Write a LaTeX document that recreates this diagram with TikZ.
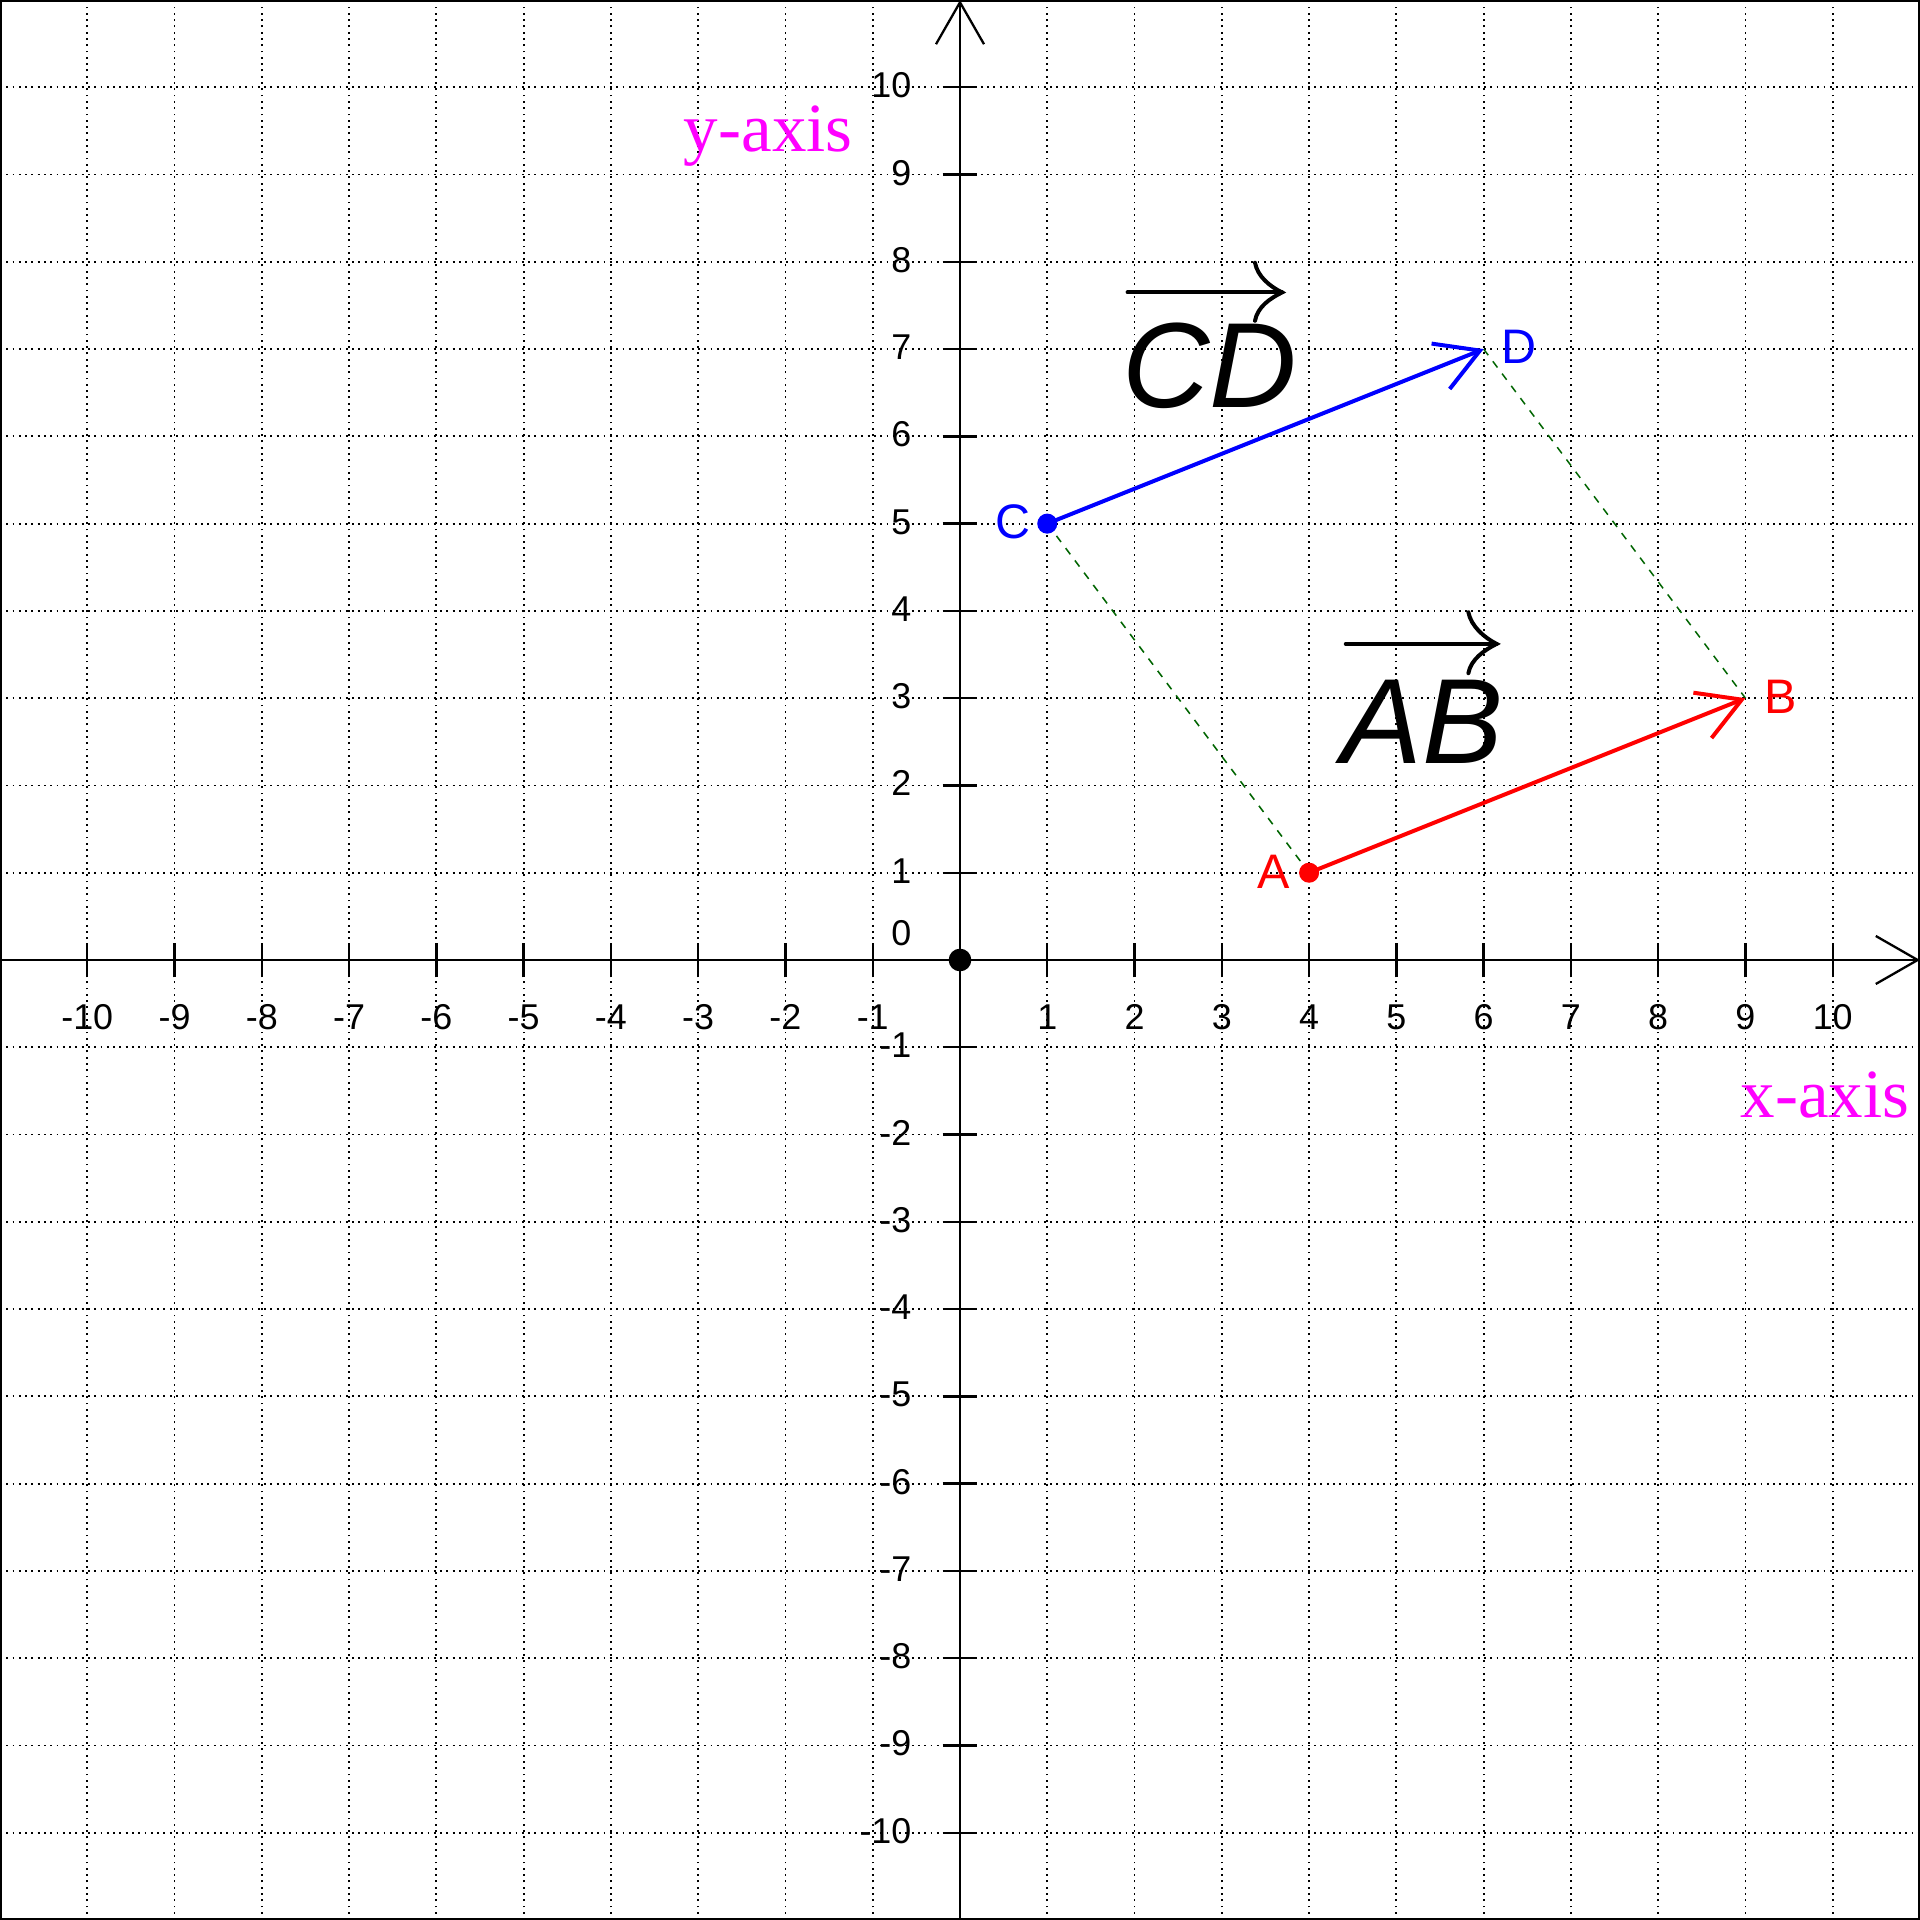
\documentclass[tikz,border=0pt]{standalone}
\usepackage{fontspec}
\newfontfamily\lsans{Liberation Sans}
\newfontfamily\lserif{Liberation Serif}
\usetikzlibrary{arrows.meta,calc}
\definecolor{dgreen}{RGB}{0,100,0}
\definecolor{mag}{RGB}{255,0,255}
\begin{document}
\begin{tikzpicture}[x=1cm,y=1cm,
  gridline/.style={line width=0.6pt, dash pattern=on 0.6pt off 1.45pt},
  axisline/.style={line width=0.75pt, -{Straight Barb[length=4.8mm,width=5.5mm]}},
  tickline/.style={line width=0.75pt},
  ticklab/.style={font=\lsans\fontsize{11.7}{13}\selectfont, inner sep=0pt},
  vecline/.style={line width=1.3pt, -{Straight Barb[length=4.85mm,width=5.6mm]}},
  helper/.style={dgreen, line width=0.5pt, dash pattern=on 2.5pt off 2.5pt},
  ptlab/.style={font=\lsans\fontsize{15.8}{17}\selectfont, inner sep=0pt, anchor=base},
  biglab/.style={font=\lsans\itshape\fontsize{39.5}{41}\selectfont, inner sep=0pt, anchor=base},
  axlab/.style={font=\lserif\fontsize{22.5}{24}\selectfont, text=mag, inner sep=0pt, anchor=base west},
  overarrow/.style={line width=1.3pt, line cap=round}
]
\useasboundingbox (-11,-11) rectangle (11,11);
% grid
\foreach \k in {-10,...,10} {
  \draw[gridline] (\k,-11) -- (\k,11);
  \draw[gridline] (-11,\k) -- (11,\k);
}
% frame
\draw[line width=1.3pt] (-11,-11) rectangle (11,11);
% axes
\coordinate (xl) at (-11,0);
\coordinate (xr) at (11,0);
\coordinate (yb) at (0,-11);
\coordinate (yt) at (0,11);
\draw[axisline] (xl) -- (xr);
\draw[axisline] (yb) -- (yt);
% ticks and labels
\foreach \k in {-10,...,-1,1,2,...,10} {
  \draw[tickline] (\k,-0.2) -- (\k,0.2);
  \draw[tickline] (-0.2,\k) -- (0.2,\k);
  \node[ticklab, anchor=base] (xt\k) at (\k,-0.8) {\k};
  \node[ticklab, anchor=base east] (yt\k) at (-0.55,{\k-0.12}) {\k};
}
\node[ticklab, anchor=base east] (zero) at (-0.55,0.17) {0};
% axis names
\node[axlab] (xname) at (8.94,-1.80) {x-axis};
\node[axlab] (yname) at (-3.17,9.26) {y-axis};
% points
\coordinate (A) at (4,1);
\coordinate (B) at (9,3);
\coordinate (C) at (1,5);
\coordinate (D) at (6,7);
\coordinate (O) at (0,0);
% helper dashed lines
\draw[helper] (C) -- (A);
\draw[helper] (D) -- (B);
% vectors
\draw[vecline, red] (A) -- (B);
\draw[vecline, blue] (C) -- (D);
% dots
\fill[red] (A) circle (0.115);
\fill[blue] (C) circle (0.115);
\fill[black] (O) circle (0.13);
% point labels
\node[ptlab, text=red] (Al) at (3.59,0.824) {A};
\node[ptlab, text=red] (Bl) at (9.40,2.82) {B};
\node[ptlab, text=blue] (Cl) at (0.61,4.83) {C};
\node[ptlab, text=blue] (Dl) at (6.41,6.83) {D};
% vector names
\node[biglab] (ABname) at (5.30,2.256) {AB};
\node[biglab] (CDname) at (2.86,6.332) {CD};
% over-arrows
\coordinate (ABs) at (4.42,3.622);
\coordinate (ABt) at (6.149,3.622);
\coordinate (ABu) at (5.825,3.985);
\coordinate (ABl) at (5.825,3.286);
\draw[overarrow] (ABs) -- (ABt);
\draw[overarrow] (ABu) .. controls ($(ABu)+(0.03,-0.16)$) and ($(ABt)+(-0.14,0.07)$) .. (ABt)
  .. controls ($(ABt)+(-0.14,-0.07)$) and ($(ABl)+(0.03,0.16)$) .. (ABl);
\coordinate (CDs) at (1.92,7.649);
\coordinate (CDt) at (3.69,7.649);
\coordinate (CDu) at (3.38,7.99);
\coordinate (CDl) at (3.38,7.324);
\draw[overarrow] (CDs) -- (CDt);
\draw[overarrow] (CDu) .. controls ($(CDu)+(0.03,-0.16)$) and ($(CDt)+(-0.14,0.07)$) .. (CDt)
  .. controls ($(CDt)+(-0.14,-0.07)$) and ($(CDl)+(0.03,0.16)$) .. (CDl);
\end{tikzpicture}
\end{document}
